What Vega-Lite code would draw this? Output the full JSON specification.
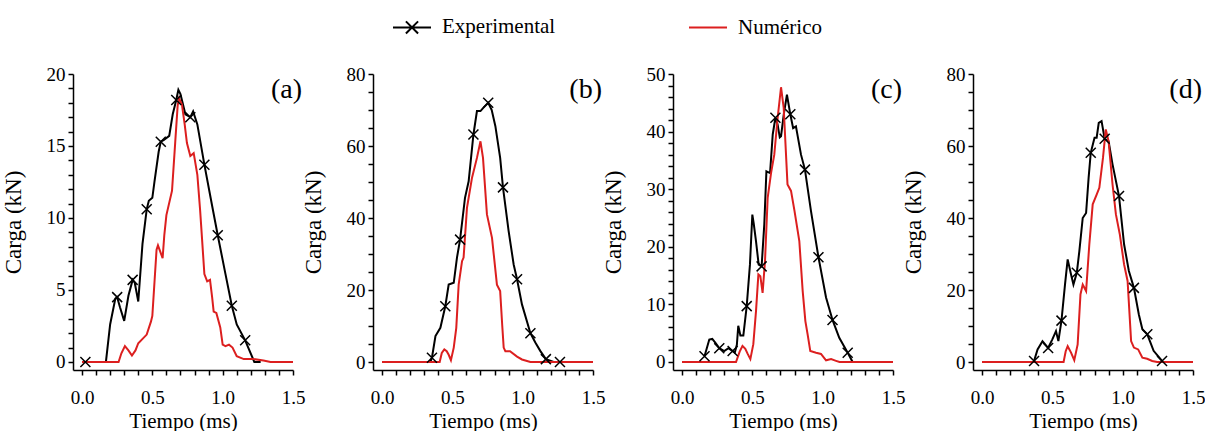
{
  "$schema": "https://vega.github.io/schema/vega-lite/v6.json",
  "padding": {"left": 2, "top": 7, "right": 0, "bottom": 0},
  "background": "white",
  "spacing": 80,
  "bounds": "flush",
  "data": {"values": [
    {"p":"a","s":"Experimental","t":0.024,"c":0,"m":1},
    {"p":"a","s":"Experimental","t":0.17,"c":0},
    {"p":"a","s":"Experimental","t":0.2,"c":2.6},
    {"p":"a","s":"Experimental","t":0.237,"c":4.4},
    {"p":"a","s":"Experimental","t":0.25,"c":4.5,"m":1},
    {"p":"a","s":"Experimental","t":0.27,"c":3.8},
    {"p":"a","s":"Experimental","t":0.3,"c":2.85},
    {"p":"a","s":"Experimental","t":0.33,"c":4.6},
    {"p":"a","s":"Experimental","t":0.36,"c":5.7,"m":1},
    {"p":"a","s":"Experimental","t":0.375,"c":5.5},
    {"p":"a","s":"Experimental","t":0.4,"c":4.2},
    {"p":"a","s":"Experimental","t":0.43,"c":8.2},
    {"p":"a","s":"Experimental","t":0.46,"c":10.6,"m":1},
    {"p":"a","s":"Experimental","t":0.475,"c":11.2},
    {"p":"a","s":"Experimental","t":0.5,"c":11.4},
    {"p":"a","s":"Experimental","t":0.515,"c":12.5},
    {"p":"a","s":"Experimental","t":0.545,"c":14.6},
    {"p":"a","s":"Experimental","t":0.56,"c":15.3,"m":1},
    {"p":"a","s":"Experimental","t":0.58,"c":15.4},
    {"p":"a","s":"Experimental","t":0.62,"c":15.7},
    {"p":"a","s":"Experimental","t":0.645,"c":17.2},
    {"p":"a","s":"Experimental","t":0.67,"c":18.2,"m":1},
    {"p":"a","s":"Experimental","t":0.685,"c":18.9},
    {"p":"a","s":"Experimental","t":0.7,"c":18.6},
    {"p":"a","s":"Experimental","t":0.735,"c":17.2},
    {"p":"a","s":"Experimental","t":0.77,"c":17.0,"m":1},
    {"p":"a","s":"Experimental","t":0.79,"c":17.4},
    {"p":"a","s":"Experimental","t":0.82,"c":16.5},
    {"p":"a","s":"Experimental","t":0.87,"c":13.7,"m":1},
    {"p":"a","s":"Experimental","t":0.924,"c":10.9},
    {"p":"a","s":"Experimental","t":0.965,"c":8.8,"m":1},
    {"p":"a","s":"Experimental","t":1.02,"c":6.1},
    {"p":"a","s":"Experimental","t":1.065,"c":3.9,"m":1},
    {"p":"a","s":"Experimental","t":1.1,"c":2.6},
    {"p":"a","s":"Experimental","t":1.16,"c":1.5,"m":1},
    {"p":"a","s":"Experimental","t":1.225,"c":0},
    {"p":"a","s":"Experimental","t":1.27,"c":0},
    {"p":"a","s":"Numérico","t":0,"c":0},
    {"p":"a","s":"Numérico","t":0.26,"c":0},
    {"p":"a","s":"Numérico","t":0.28,"c":0.6},
    {"p":"a","s":"Numérico","t":0.305,"c":1.1},
    {"p":"a","s":"Numérico","t":0.33,"c":0.8},
    {"p":"a","s":"Numérico","t":0.355,"c":0.45},
    {"p":"a","s":"Numérico","t":0.38,"c":0.8},
    {"p":"a","s":"Numérico","t":0.4,"c":1.3},
    {"p":"a","s":"Numérico","t":0.46,"c":1.9},
    {"p":"a","s":"Numérico","t":0.49,"c":2.8},
    {"p":"a","s":"Numérico","t":0.5,"c":3.2},
    {"p":"a","s":"Numérico","t":0.515,"c":5.5},
    {"p":"a","s":"Numérico","t":0.53,"c":7.8},
    {"p":"a","s":"Numérico","t":0.54,"c":8.1},
    {"p":"a","s":"Numérico","t":0.555,"c":7.7},
    {"p":"a","s":"Numérico","t":0.573,"c":7.2},
    {"p":"a","s":"Numérico","t":0.585,"c":8.8},
    {"p":"a","s":"Numérico","t":0.6,"c":10.2},
    {"p":"a","s":"Numérico","t":0.64,"c":11.9},
    {"p":"a","s":"Numérico","t":0.663,"c":15.3},
    {"p":"a","s":"Numérico","t":0.68,"c":17.8},
    {"p":"a","s":"Numérico","t":0.69,"c":18.3},
    {"p":"a","s":"Numérico","t":0.71,"c":17.9},
    {"p":"a","s":"Numérico","t":0.73,"c":16.5},
    {"p":"a","s":"Numérico","t":0.746,"c":15.2},
    {"p":"a","s":"Numérico","t":0.77,"c":14.3},
    {"p":"a","s":"Numérico","t":0.794,"c":14.5},
    {"p":"a","s":"Numérico","t":0.82,"c":13.0},
    {"p":"a","s":"Numérico","t":0.84,"c":10.5},
    {"p":"a","s":"Numérico","t":0.853,"c":8.6},
    {"p":"a","s":"Numérico","t":0.87,"c":6.1},
    {"p":"a","s":"Numérico","t":0.89,"c":5.6},
    {"p":"a","s":"Numérico","t":0.91,"c":5.7},
    {"p":"a","s":"Numérico","t":0.925,"c":4.5},
    {"p":"a","s":"Numérico","t":0.936,"c":3.5},
    {"p":"a","s":"Numérico","t":0.955,"c":3.4},
    {"p":"a","s":"Numérico","t":0.983,"c":2.4},
    {"p":"a","s":"Numérico","t":1.0,"c":1.2},
    {"p":"a","s":"Numérico","t":1.02,"c":1.1},
    {"p":"a","s":"Numérico","t":1.045,"c":1.2},
    {"p":"a","s":"Numérico","t":1.07,"c":1.0},
    {"p":"a","s":"Numérico","t":1.1,"c":0.4},
    {"p":"a","s":"Numérico","t":1.15,"c":0.2},
    {"p":"a","s":"Numérico","t":1.22,"c":0.2},
    {"p":"a","s":"Numérico","t":1.29,"c":0.1},
    {"p":"a","s":"Numérico","t":1.34,"c":0},
    {"p":"a","s":"Numérico","t":1.5,"c":0},

    {"p":"b","s":"Experimental","t":0.344,"c":0},
    {"p":"b","s":"Experimental","t":0.355,"c":1.2,"m":1},
    {"p":"b","s":"Experimental","t":0.38,"c":7.2},
    {"p":"b","s":"Experimental","t":0.415,"c":9.5},
    {"p":"b","s":"Experimental","t":0.45,"c":15.5,"m":1},
    {"p":"b","s":"Experimental","t":0.474,"c":21.5},
    {"p":"b","s":"Experimental","t":0.51,"c":22},
    {"p":"b","s":"Experimental","t":0.533,"c":29},
    {"p":"b","s":"Experimental","t":0.555,"c":34,"m":1},
    {"p":"b","s":"Experimental","t":0.59,"c":45.6},
    {"p":"b","s":"Experimental","t":0.616,"c":50.2},
    {"p":"b","s":"Experimental","t":0.65,"c":63.2,"m":1},
    {"p":"b","s":"Experimental","t":0.675,"c":69.7},
    {"p":"b","s":"Experimental","t":0.7,"c":69.7},
    {"p":"b","s":"Experimental","t":0.72,"c":70.6},
    {"p":"b","s":"Experimental","t":0.755,"c":72,"m":1},
    {"p":"b","s":"Experimental","t":0.78,"c":70},
    {"p":"b","s":"Experimental","t":0.806,"c":65.5},
    {"p":"b","s":"Experimental","t":0.84,"c":56.7},
    {"p":"b","s":"Experimental","t":0.86,"c":48.5,"m":1},
    {"p":"b","s":"Experimental","t":0.9,"c":36.4},
    {"p":"b","s":"Experimental","t":0.936,"c":27.1},
    {"p":"b","s":"Experimental","t":0.96,"c":23,"m":1},
    {"p":"b","s":"Experimental","t":0.995,"c":16},
    {"p":"b","s":"Experimental","t":1.055,"c":8,"m":1},
    {"p":"b","s":"Experimental","t":1.09,"c":5.4},
    {"p":"b","s":"Experimental","t":1.125,"c":3.1},
    {"p":"b","s":"Experimental","t":1.165,"c":0.8,"m":1},
    {"p":"b","s":"Experimental","t":1.22,"c":0},
    {"p":"b","s":"Experimental","t":1.265,"c":0,"m":1},
    {"p":"b","s":"Numérico","t":0,"c":0},
    {"p":"b","s":"Numérico","t":0.41,"c":0},
    {"p":"b","s":"Numérico","t":0.425,"c":2.5},
    {"p":"b","s":"Numérico","t":0.443,"c":3.5},
    {"p":"b","s":"Numérico","t":0.46,"c":3.0},
    {"p":"b","s":"Numérico","t":0.474,"c":2.0},
    {"p":"b","s":"Numérico","t":0.49,"c":0.5},
    {"p":"b","s":"Numérico","t":0.51,"c":4},
    {"p":"b","s":"Numérico","t":0.528,"c":9.5},
    {"p":"b","s":"Numérico","t":0.545,"c":21.5},
    {"p":"b","s":"Numérico","t":0.569,"c":28},
    {"p":"b","s":"Numérico","t":0.58,"c":29},
    {"p":"b","s":"Numérico","t":0.604,"c":42.8},
    {"p":"b","s":"Numérico","t":0.64,"c":51.2},
    {"p":"b","s":"Numérico","t":0.675,"c":56.7},
    {"p":"b","s":"Numérico","t":0.7,"c":61.3},
    {"p":"b","s":"Numérico","t":0.718,"c":56.7},
    {"p":"b","s":"Numérico","t":0.746,"c":41},
    {"p":"b","s":"Numérico","t":0.782,"c":34.5},
    {"p":"b","s":"Numérico","t":0.817,"c":21.5},
    {"p":"b","s":"Numérico","t":0.84,"c":19.7},
    {"p":"b","s":"Numérico","t":0.855,"c":10},
    {"p":"b","s":"Numérico","t":0.865,"c":4},
    {"p":"b","s":"Numérico","t":0.877,"c":3},
    {"p":"b","s":"Numérico","t":0.91,"c":3},
    {"p":"b","s":"Numérico","t":0.96,"c":1.5},
    {"p":"b","s":"Numérico","t":0.995,"c":0.7},
    {"p":"b","s":"Numérico","t":1.055,"c":0},
    {"p":"b","s":"Numérico","t":1.5,"c":0},

    {"p":"c","s":"Experimental","t":0.16,"c":1.0,"m":1},
    {"p":"c","s":"Experimental","t":0.194,"c":3.9},
    {"p":"c","s":"Experimental","t":0.215,"c":4.0},
    {"p":"c","s":"Experimental","t":0.235,"c":3.4},
    {"p":"c","s":"Experimental","t":0.265,"c":2.4,"m":1},
    {"p":"c","s":"Experimental","t":0.3,"c":1.9},
    {"p":"c","s":"Experimental","t":0.33,"c":2.4},
    {"p":"c","s":"Experimental","t":0.36,"c":1.9,"m":1},
    {"p":"c","s":"Experimental","t":0.375,"c":1.6},
    {"p":"c","s":"Experimental","t":0.39,"c":3},
    {"p":"c","s":"Experimental","t":0.4,"c":6.3},
    {"p":"c","s":"Experimental","t":0.415,"c":4.6},
    {"p":"c","s":"Experimental","t":0.436,"c":4.6},
    {"p":"c","s":"Experimental","t":0.46,"c":9.7,"m":1},
    {"p":"c","s":"Experimental","t":0.483,"c":16.9},
    {"p":"c","s":"Experimental","t":0.5,"c":25.6},
    {"p":"c","s":"Experimental","t":0.51,"c":24},
    {"p":"c","s":"Experimental","t":0.526,"c":21},
    {"p":"c","s":"Experimental","t":0.545,"c":16.9},
    {"p":"c","s":"Experimental","t":0.566,"c":16.6,"m":1},
    {"p":"c","s":"Experimental","t":0.585,"c":23.9},
    {"p":"c","s":"Experimental","t":0.6,"c":33.1},
    {"p":"c","s":"Experimental","t":0.626,"c":32.8},
    {"p":"c","s":"Experimental","t":0.645,"c":39.5},
    {"p":"c","s":"Experimental","t":0.664,"c":42.4,"m":1},
    {"p":"c","s":"Experimental","t":0.68,"c":41.2},
    {"p":"c","s":"Experimental","t":0.695,"c":39},
    {"p":"c","s":"Experimental","t":0.704,"c":39.2},
    {"p":"c","s":"Experimental","t":0.723,"c":42.9},
    {"p":"c","s":"Experimental","t":0.746,"c":46.4},
    {"p":"c","s":"Experimental","t":0.77,"c":43,"m":1},
    {"p":"c","s":"Experimental","t":0.79,"c":40.6},
    {"p":"c","s":"Experimental","t":0.81,"c":40.9},
    {"p":"c","s":"Experimental","t":0.846,"c":36},
    {"p":"c","s":"Experimental","t":0.874,"c":33.4,"m":1},
    {"p":"c","s":"Experimental","t":0.917,"c":26.2},
    {"p":"c","s":"Experimental","t":0.97,"c":18.2,"m":1},
    {"p":"c","s":"Experimental","t":1.024,"c":11.2},
    {"p":"c","s":"Experimental","t":1.07,"c":7.3,"m":1},
    {"p":"c","s":"Experimental","t":1.118,"c":4.2},
    {"p":"c","s":"Experimental","t":1.178,"c":1.6,"m":1},
    {"p":"c","s":"Experimental","t":1.213,"c":0},
    {"p":"c","s":"Numérico","t":0,"c":0},
    {"p":"c","s":"Numérico","t":0.384,"c":0},
    {"p":"c","s":"Numérico","t":0.41,"c":1.8},
    {"p":"c","s":"Numérico","t":0.43,"c":2.8},
    {"p":"c","s":"Numérico","t":0.45,"c":2.3},
    {"p":"c","s":"Numérico","t":0.467,"c":1.4},
    {"p":"c","s":"Numérico","t":0.486,"c":0.5},
    {"p":"c","s":"Numérico","t":0.507,"c":3.1},
    {"p":"c","s":"Numérico","t":0.526,"c":8.8},
    {"p":"c","s":"Numérico","t":0.543,"c":15.2},
    {"p":"c","s":"Numérico","t":0.557,"c":14.9},
    {"p":"c","s":"Numérico","t":0.573,"c":12.0},
    {"p":"c","s":"Numérico","t":0.59,"c":17.5},
    {"p":"c","s":"Numérico","t":0.609,"c":28.5},
    {"p":"c","s":"Numérico","t":0.633,"c":32.8},
    {"p":"c","s":"Numérico","t":0.656,"c":36},
    {"p":"c","s":"Numérico","t":0.68,"c":42.4},
    {"p":"c","s":"Numérico","t":0.704,"c":47.7},
    {"p":"c","s":"Numérico","t":0.723,"c":44.1},
    {"p":"c","s":"Numérico","t":0.75,"c":30.8},
    {"p":"c","s":"Numérico","t":0.775,"c":29.7},
    {"p":"c","s":"Numérico","t":0.8,"c":26.2},
    {"p":"c","s":"Numérico","t":0.834,"c":21},
    {"p":"c","s":"Numérico","t":0.858,"c":12.3},
    {"p":"c","s":"Numérico","t":0.877,"c":7.1},
    {"p":"c","s":"Numérico","t":0.893,"c":4.8},
    {"p":"c","s":"Numérico","t":0.912,"c":1.9},
    {"p":"c","s":"Numérico","t":0.953,"c":1.6},
    {"p":"c","s":"Numérico","t":0.988,"c":1.4},
    {"p":"c","s":"Numérico","t":1.024,"c":0.3},
    {"p":"c","s":"Numérico","t":1.06,"c":0.5},
    {"p":"c","s":"Numérico","t":1.095,"c":0.2},
    {"p":"c","s":"Numérico","t":1.12,"c":0},
    {"p":"c","s":"Numérico","t":1.5,"c":0},

    {"p":"d","s":"Experimental","t":0.37,"c":0.3,"m":1},
    {"p":"d","s":"Experimental","t":0.395,"c":3.5},
    {"p":"d","s":"Experimental","t":0.43,"c":5.8},
    {"p":"d","s":"Experimental","t":0.47,"c":3.9,"m":1},
    {"p":"d","s":"Experimental","t":0.5,"c":6.3},
    {"p":"d","s":"Experimental","t":0.526,"c":8.6},
    {"p":"d","s":"Experimental","t":0.543,"c":5.8},
    {"p":"d","s":"Experimental","t":0.565,"c":11.5,"m":1},
    {"p":"d","s":"Experimental","t":0.59,"c":21.5},
    {"p":"d","s":"Experimental","t":0.609,"c":28.5},
    {"p":"d","s":"Experimental","t":0.633,"c":24.3},
    {"p":"d","s":"Experimental","t":0.65,"c":21.5},
    {"p":"d","s":"Experimental","t":0.674,"c":24.8,"m":1},
    {"p":"d","s":"Experimental","t":0.692,"c":30.8},
    {"p":"d","s":"Experimental","t":0.716,"c":40},
    {"p":"d","s":"Experimental","t":0.74,"c":41.4},
    {"p":"d","s":"Experimental","t":0.758,"c":51.2},
    {"p":"d","s":"Experimental","t":0.773,"c":58.1,"m":1},
    {"p":"d","s":"Experimental","t":0.8,"c":62.3},
    {"p":"d","s":"Experimental","t":0.815,"c":62.3},
    {"p":"d","s":"Experimental","t":0.83,"c":66.4},
    {"p":"d","s":"Experimental","t":0.85,"c":66.9},
    {"p":"d","s":"Experimental","t":0.872,"c":62,"m":1},
    {"p":"d","s":"Experimental","t":0.9,"c":61.3},
    {"p":"d","s":"Experimental","t":0.928,"c":54.9},
    {"p":"d","s":"Experimental","t":0.974,"c":46.1,"m":1},
    {"p":"d","s":"Experimental","t":1.01,"c":32.7},
    {"p":"d","s":"Experimental","t":1.044,"c":25.3},
    {"p":"d","s":"Experimental","t":1.08,"c":20.6,"m":1},
    {"p":"d","s":"Experimental","t":1.115,"c":13.2},
    {"p":"d","s":"Experimental","t":1.14,"c":9.1},
    {"p":"d","s":"Experimental","t":1.175,"c":7.7,"m":1},
    {"p":"d","s":"Experimental","t":1.22,"c":3.1},
    {"p":"d","s":"Experimental","t":1.28,"c":0.3,"m":1},
    {"p":"d","s":"Numérico","t":0,"c":0},
    {"p":"d","s":"Numérico","t":0.58,"c":0},
    {"p":"d","s":"Numérico","t":0.595,"c":3},
    {"p":"d","s":"Numérico","t":0.609,"c":4.4},
    {"p":"d","s":"Numérico","t":0.633,"c":2.6},
    {"p":"d","s":"Numérico","t":0.656,"c":0.5},
    {"p":"d","s":"Numérico","t":0.68,"c":4.9},
    {"p":"d","s":"Numérico","t":0.7,"c":18.8},
    {"p":"d","s":"Numérico","t":0.716,"c":21.5},
    {"p":"d","s":"Numérico","t":0.74,"c":19.7},
    {"p":"d","s":"Numérico","t":0.763,"c":32.7},
    {"p":"d","s":"Numérico","t":0.787,"c":43.8},
    {"p":"d","s":"Numérico","t":0.815,"c":46.5},
    {"p":"d","s":"Numérico","t":0.834,"c":48.4},
    {"p":"d","s":"Numérico","t":0.86,"c":56.7},
    {"p":"d","s":"Numérico","t":0.88,"c":64.6},
    {"p":"d","s":"Numérico","t":0.9,"c":61.3},
    {"p":"d","s":"Numérico","t":0.928,"c":49.3},
    {"p":"d","s":"Numérico","t":0.952,"c":41},
    {"p":"d","s":"Numérico","t":0.98,"c":35.4},
    {"p":"d","s":"Numérico","t":1.01,"c":27.1},
    {"p":"d","s":"Numérico","t":1.035,"c":22.5},
    {"p":"d","s":"Numérico","t":1.06,"c":5.8},
    {"p":"d","s":"Numérico","t":1.08,"c":4},
    {"p":"d","s":"Numérico","t":1.11,"c":3.5},
    {"p":"d","s":"Numérico","t":1.14,"c":1.2},
    {"p":"d","s":"Numérico","t":1.174,"c":0.9},
    {"p":"d","s":"Numérico","t":1.21,"c":0.3},
    {"p":"d","s":"Numérico","t":1.245,"c":0},
    {"p":"d","s":"Numérico","t":1.5,"c":0}
  ]},
  "hconcat": [
    {
      "width": 220, "height": 296,
      "title": {"text": "(a)"},
      "transform": [{"filter": "datum.p === 'a'"}],
      "encoding": {
        "x": {"field": "t", "type": "quantitative", "scale": {"domain": [-0.064, 1.5], "nice": false, "zero": false},
              "axis": {"title": "Tiempo (ms)", "values": [0,0.1,0.2,0.3,0.4,0.5,0.6,0.7,0.8,0.9,1,1.1,1.2,1.3,1.4,1.5], "labelExpr": "round(datum.value*10) % 5 === 0 ? format(datum.value, '.1f') : ''"}},
        "y": {"field": "c", "type": "quantitative", "scale": {"domain": [-0.56, 20], "nice": false, "zero": false},
              "axis": {"title": "Carga (kN)", "values": [0,1,2,3,4,5,6,7,8,9,10,11,12,13,14,15,16,17,18,19,20], "labelExpr": "round(datum.value) % 5 === 0 ? format(datum.value, 'd') : ''"}}
      },
      "layer": [
        {"mark": {"type": "line", "strokeWidth": 2},
         "encoding": {"color": {"field": "s", "type": "nominal", "sort": ["Experimental", "Numérico"],
           "legend": {"encode": {"symbols": {"update": {"shape": {"signal": "datum.value === 'Experimental' ? 'M-1,0L1,0M-0.32,-0.32L0.32,0.32M-0.32,0.32L0.32,-0.32' : 'M-1,0L1,0'"}}}}}}}},
        {"transform": [{"filter": "datum.m === 1"}],
         "mark": {"type": "point", "shape": "M-1,-1L1,1M-1,1L1,-1", "size": 100, "strokeWidth": 1.5, "color": "black", "filled": false, "opacity": 1}}
      ]
    },
    {
      "width": 220, "height": 296,
      "title": {"text": "(b)"},
      "transform": [{"filter": "datum.p === 'b'"}],
      "encoding": {
        "x": {"field": "t", "type": "quantitative", "scale": {"domain": [-0.064, 1.5], "nice": false, "zero": false},
              "axis": {"title": "Tiempo (ms)", "values": [0,0.1,0.2,0.3,0.4,0.5,0.6,0.7,0.8,0.9,1,1.1,1.2,1.3,1.4,1.5], "labelExpr": "round(datum.value*10) % 5 === 0 ? format(datum.value, '.1f') : ''"}},
        "y": {"field": "c", "type": "quantitative", "scale": {"domain": [-2.22, 80], "nice": false, "zero": false},
              "axis": {"title": "Carga (kN)", "values": [0,5,10,15,20,25,30,35,40,45,50,55,60,65,70,75,80], "labelExpr": "round(datum.value) % 20 === 0 ? format(datum.value, 'd') : ''"}}
      },
      "layer": [
        {"mark": {"type": "line", "strokeWidth": 2},
         "encoding": {"color": {"field": "s", "type": "nominal", "sort": ["Experimental", "Numérico"],
           "legend": {"encode": {"symbols": {"update": {"shape": {"signal": "datum.value === 'Experimental' ? 'M-1,0L1,0M-0.32,-0.32L0.32,0.32M-0.32,0.32L0.32,-0.32' : 'M-1,0L1,0'"}}}}}}}},
        {"transform": [{"filter": "datum.m === 1"}],
         "mark": {"type": "point", "shape": "M-1,-1L1,1M-1,1L1,-1", "size": 100, "strokeWidth": 1.5, "color": "black", "filled": false, "opacity": 1}}
      ]
    },
    {
      "width": 220, "height": 296,
      "title": {"text": "(c)"},
      "transform": [{"filter": "datum.p === 'c'"}],
      "encoding": {
        "x": {"field": "t", "type": "quantitative", "scale": {"domain": [-0.064, 1.5], "nice": false, "zero": false},
              "axis": {"title": "Tiempo (ms)", "values": [0,0.1,0.2,0.3,0.4,0.5,0.6,0.7,0.8,0.9,1,1.1,1.2,1.3,1.4,1.5], "labelExpr": "round(datum.value*10) % 5 === 0 ? format(datum.value, '.1f') : ''"}},
        "y": {"field": "c", "type": "quantitative", "scale": {"domain": [-1.39, 50], "nice": false, "zero": false},
              "axis": {"title": "Carga (kN)", "values": [0,2,4,6,8,10,12,14,16,18,20,22,24,26,28,30,32,34,36,38,40,42,44,46,48,50], "labelExpr": "round(datum.value) % 10 === 0 ? format(datum.value, 'd') : ''"}}
      },
      "layer": [
        {"mark": {"type": "line", "strokeWidth": 2},
         "encoding": {"color": {"field": "s", "type": "nominal", "sort": ["Experimental", "Numérico"],
           "legend": {"encode": {"symbols": {"update": {"shape": {"signal": "datum.value === 'Experimental' ? 'M-1,0L1,0M-0.32,-0.32L0.32,0.32M-0.32,0.32L0.32,-0.32' : 'M-1,0L1,0'"}}}}}}}},
        {"transform": [{"filter": "datum.m === 1"}],
         "mark": {"type": "point", "shape": "M-1,-1L1,1M-1,1L1,-1", "size": 100, "strokeWidth": 1.5, "color": "black", "filled": false, "opacity": 1}}
      ]
    },
    {
      "width": 220, "height": 296,
      "title": {"text": "(d)"},
      "transform": [{"filter": "datum.p === 'd'"}],
      "encoding": {
        "x": {"field": "t", "type": "quantitative", "scale": {"domain": [-0.064, 1.5], "nice": false, "zero": false},
              "axis": {"title": "Tiempo (ms)", "values": [0,0.1,0.2,0.3,0.4,0.5,0.6,0.7,0.8,0.9,1,1.1,1.2,1.3,1.4,1.5], "labelExpr": "round(datum.value*10) % 5 === 0 ? format(datum.value, '.1f') : ''"}},
        "y": {"field": "c", "type": "quantitative", "scale": {"domain": [-2.22, 80], "nice": false, "zero": false},
              "axis": {"title": "Carga (kN)", "values": [0,5,10,15,20,25,30,35,40,45,50,55,60,65,70,75,80], "labelExpr": "round(datum.value) % 20 === 0 ? format(datum.value, 'd') : ''"}}
      },
      "layer": [
        {"mark": {"type": "line", "strokeWidth": 2},
         "encoding": {"color": {"field": "s", "type": "nominal", "sort": ["Experimental", "Numérico"],
           "legend": {"encode": {"symbols": {"update": {"shape": {"signal": "datum.value === 'Experimental' ? 'M-1,0L1,0M-0.32,-0.32L0.32,0.32M-0.32,0.32L0.32,-0.32' : 'M-1,0L1,0'"}}}}}}}},
        {"transform": [{"filter": "datum.m === 1"}],
         "mark": {"type": "point", "shape": "M-1,-1L1,1M-1,1L1,-1", "size": 100, "strokeWidth": 1.5, "color": "black", "filled": false, "opacity": 1}}
      ]
    }
  ],
  "resolve": {"scale": {"x": "independent", "y": "independent", "color": "shared"}, "legend": {"color": "shared"}},
  "config": {
    "font": "Liberation Serif",
    "view": {"stroke": null},
    "range": {"category": ["#000000", "#dc1f1f"]},
    "axis": {"grid": false, "domainColor": "black", "domainWidth": 1.5, "tickColor": "black", "tickWidth": 1.5, "tickSize": 5,
             "labelFont": "Liberation Serif", "labelFontSize": 19, "labelColor": "black", "labelFlush": false, "labelOverlap": false,
             "titleFont": "Liberation Serif", "titleFontWeight": "normal", "titleColor": "black"},
    "axisX": {"labelPadding": 13, "titlePadding": 3, "titleFontSize": 21},
    "axisY": {"labelPadding": 3, "titlePadding": 21, "titleFontSize": 23},
    "title": {"font": "Liberation Serif", "fontSize": 28, "fontWeight": "normal", "color": "black", "anchor": "end", "orient": "top", "offset": -39, "dx": 9, "baseline": "alphabetic", "frame": "group"},
    "legend": {"orient": "none", "legendX": 319, "legendY": -67, "direction": "horizontal", "title": null,
               "labelFont": "Liberation Serif", "labelFontSize": 21, "labelColor": "black", "symbolSize": 1444, "symbolStrokeWidth": 2,
               "labelOffset": 10, "columnPadding": 129, "symbolType": "M-1,0L1,0",
               "symbolFillColor": "transparent"}
  }
}
